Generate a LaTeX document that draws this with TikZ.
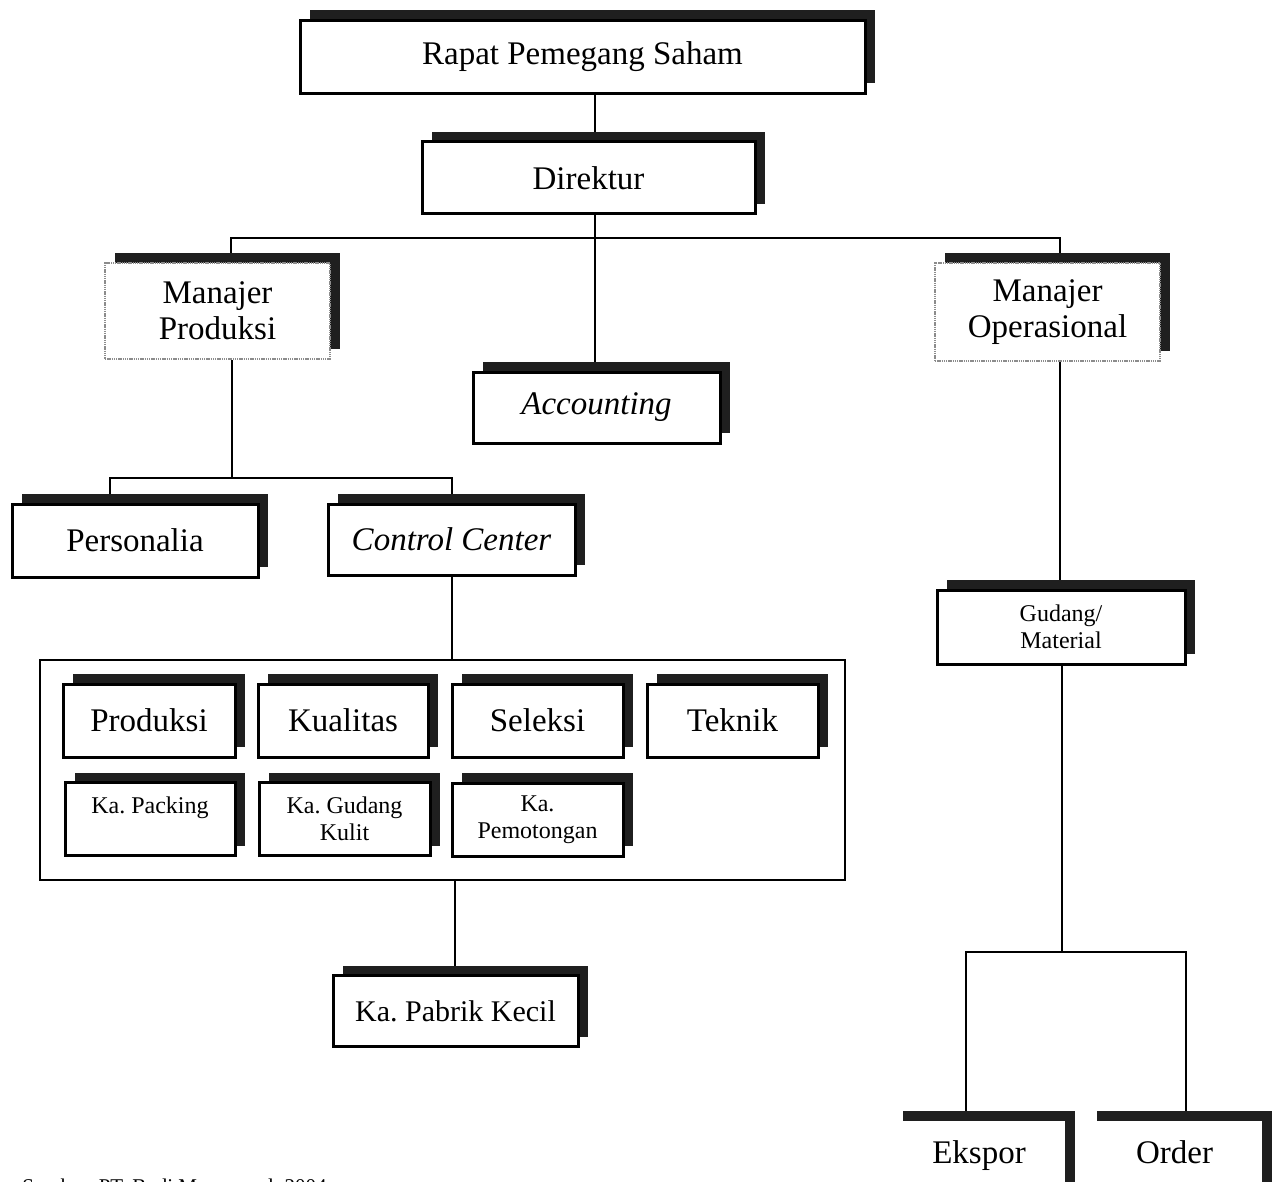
\documentclass[tikz,border=0pt]{standalone}
\usepackage{fontspec}
\setmainfont{Liberation Serif}
\frenchspacing
\usetikzlibrary{shadows,backgrounds}
\begin{document}
\begin{tikzpicture}[x=0.5pt,y=-0.5pt,
  unitbox/.style={rectangle, draw=black, line width=1.5pt, fill=white,
    inner sep=0pt, align=center, font=\fontsize{16.5}{18}\selectfont,
    drop shadow={shadow xshift=5pt, shadow yshift=5pt, fill=black!88, opacity=1}},
  smalltext/.style={font=\fontsize{12}{13.5}\selectfont},
  mgrbox/.style={unitbox, draw=black!45, line width=1.4pt, dash pattern=on 0.7pt off 0.4pt},
  openbox/.style={unitbox, draw=none, text height=11.5pt, text depth=10.5pt},
  groupbox/.style={rectangle, draw=black, line width=0.8pt, fill=white, inner sep=0pt},
  conn/.style={draw=black, line width=1pt}]

\useasboundingbox (0,0) rectangle (1279,1182);

% top management
\node[unitbox, minimum width=282.5pt, minimum height=36.5pt] (rps) at (582.5,57) {Rapat Pemegang Saham};
\node[unitbox, minimum width=166.5pt, minimum height=36pt] (dir) at (588.5,178) {Direktur};

% managers and accounting
\node[mgrbox, minimum width=112.5pt, minimum height=48pt] (mp) at (217.5,311) {Manajer\\Produksi};
\node[unitbox, minimum width=123.5pt, minimum height=35.5pt] (acc) at (596.5,407.5) {\itshape Accounting};
\node[mgrbox, minimum width=112.5pt, minimum height=49pt] (mo) at (1047.5,312) {Manajer\\Operasional};

% production branch
\node[unitbox, minimum width=123pt, minimum height=36.5pt] (per) at (135,540.5) {Personalia};
\node[unitbox, minimum width=123.5pt, minimum height=35.5pt] (cc) at (451.5,539.5) {\itshape Control Center};

% group of sections under the control center
\node[groupbox, minimum width=402.5pt, minimum height=110pt] (grp) at (442.5,770) {};
\node[unitbox, minimum width=86pt, minimum height=36.5pt] (prod) at (149,720.5) {Produksi};
\node[unitbox, minimum width=85pt, minimum height=36.5pt] (kual) at (343,720.5) {Kualitas};
\node[unitbox, minimum width=85.5pt, minimum height=36.5pt] (sel) at (537.5,720.5) {Seleksi};
\node[unitbox, minimum width=85.5pt, minimum height=36.5pt] (tek) at (732.5,720.5) {Teknik};
\node[unitbox, smalltext, minimum width=85pt, minimum height=36.5pt] (pack) at (150,819) {Ka. Packing\\\mbox{}};
\node[unitbox, smalltext, minimum width=85.5pt, minimum height=36.5pt] (gk) at (344.5,819) {Ka. Gudang\\Kulit};
\node[unitbox, smalltext, minimum width=85.5pt, minimum height=36.5pt] (pem) at (537.5,819.5) {Ka.\\Pemotongan};

\node[unitbox, font=\fontsize{15}{17}\selectfont, minimum width=122.5pt, minimum height=35.5pt] (pab) at (455.5,1011) {Ka. Pabrik Kecil};

% operations branch
\node[unitbox, smalltext, minimum width=124pt, minimum height=37pt] (gud) at (1061,627) {Gudang/\\Material};
\node[openbox, minimum width=86pt, minimum height=41pt] (eks) at (979,1162) {Ekspor};
\node[openbox, minimum width=87.5pt, minimum height=41pt] (ord) at (1174.5,1162) {Order};

% source note
\node[anchor=base west, inner sep=0pt, font=\fontsize{10.5}{12}\selectfont] (src) at (22,1193) {Sumber: PT. Budi Manunggal, 2004};

% connector guide points
\coordinate (xtop) at (595,0);
\coordinate (bus) at (595,238);
\coordinate (xmp) at (231,238);
\coordinate (xmo) at (1060,238);
\coordinate (b2) at (232,478);
\coordinate (xper) at (110,478);
\coordinate (xcc) at (452,478);
\coordinate (xpab) at (455,0);
\coordinate (b3) at (1062,952);
\coordinate (xe) at (966,952);
\coordinate (xo) at (1186,952);

\begin{pgfonlayer}{background}
  \fill[white] (0,0) rectangle (1279,1182);
  \draw[conn] (rps.south -| xtop) -- (dir.north -| xtop);
  \draw[conn] (dir.south -| bus) -- (acc.north -| bus);
  \draw[conn] (mp.north -| xmp) |- (xmo) -- (mo.north -| xmo);
  \draw[conn] (mp.south -| b2) -- (b2);
  \draw[conn] (per.north -| xper) |- (xcc) -- (cc.north -| xcc);
  \draw[conn] (cc.south -| xcc) -- (grp.north -| xcc);
  \draw[conn] (grp.south -| xpab) -- (pab.north -| xpab);
  \draw[conn] (mo.south -| xmo) -- (gud.north -| xmo);
  \draw[conn] (gud.south -| b3) -- (b3);
  \draw[conn] (eks.north -| xe) |- (xo) -- (ord.north -| xo);
\end{pgfonlayer}
\end{tikzpicture}
\end{document}
